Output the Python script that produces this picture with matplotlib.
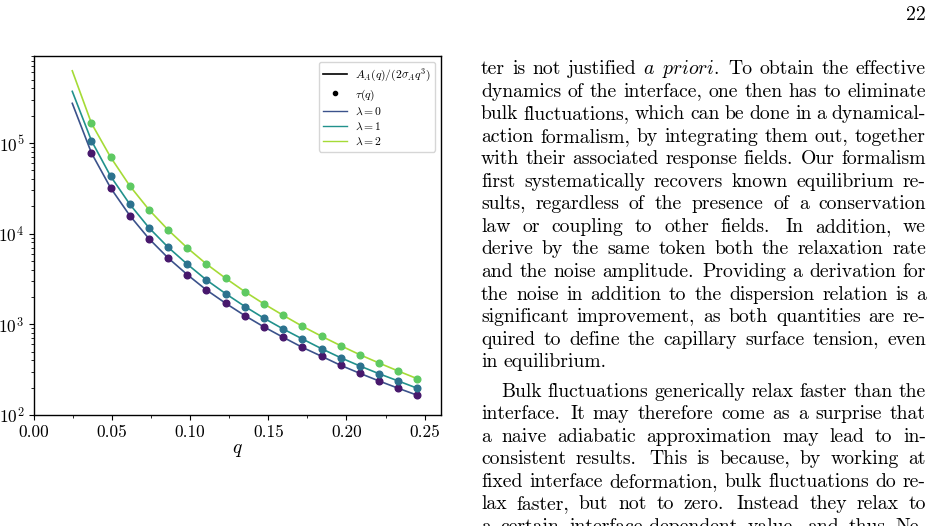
import matplotlib
matplotlib.use("Agg")
import matplotlib.pyplot as plt
from matplotlib.ticker import MultipleLocator
from matplotlib.lines import Line2D

plt.rcParams["font.family"] = "serif"
plt.rcParams["font.serif"] = ["cmr10"]
plt.rcParams["mathtext.fontset"] = "cm"
plt.rcParams["axes.formatter.use_mathtext"] = True

# --- data ---
q_dots = [0.0368, 0.0491, 0.0614, 0.0736, 0.0859, 0.0982, 0.1104, 0.1227, 0.1350,
          0.1473, 0.1595, 0.1718, 0.1841, 0.1963, 0.2086, 0.2209, 0.2332, 0.2454]
q_line = [0.0245] + q_dots

tau_0 = [77400, 31800, 15750, 8790, 5380, 3520, 2390, 1705, 1245,
         934, 719, 557, 444, 353, 288, 237, 197, 165]
tau_1 = [105700, 42800, 21000, 11600, 7060, 4590, 3080, 2175, 1572,
         1165, 888, 689, 538, 428, 347, 285, 237, 197]
tau_2 = [164400, 69400, 33500, 18350, 10960, 6940, 4620, 3215, 2288,
         1675, 1257, 951, 738, 581, 462, 374, 305, 251]

amp_0 = [273500, 77400, 31800, 15750, 8790, 5380, 3520, 2390, 1705, 1245,
         934, 719, 557, 444, 353, 288, 237, 197, 165]
amp_1 = [370700, 105700, 42800, 21000, 11600, 7060, 4590, 3080, 2175, 1572,
         1165, 888, 689, 538, 428, 347, 285, 237, 197]
amp_2 = [625000, 164400, 69400, 33500, 18350, 10960, 6940, 4620, 3215, 2288,
         1675, 1257, 951, 738, 581, 462, 374, 305, 251]

lambdas = [0, 1, 2]
line_colors = ["#3b528b", "#21918c", "#a5db36"]
dot_colors = ["#47186c", "#2c728e", "#5ec962"]

para1 = [
    "ter is not justified $a$ $priori$. To obtain the effective",
    "dynamics of the interface, one then has to eliminate",
    "bulk fluctuations, which can be done in a dynamical-",
    "action formalism, by integrating them out, together",
    "with their associated response fields. Our formalism",
    "first systematically recovers known equilibrium re-",
    "sults, regardless of the presence of a conservation",
    "law or coupling to other fields. In addition, we",
    "derive by the same token both the relaxation rate",
    "and the noise amplitude. Providing a derivation for",
    "the noise in addition to the dispersion relation is a",
    "significant improvement, as both quantities are re-",
    "quired to define the capillary surface tension, even",
    "in equilibrium.",
]
para2 = [
    "Bulk fluctuations generically relax faster than the",
    "interface. It may therefore come as a surprise that",
    "a naive adiabatic approximation may lead to in-",
    "consistent results. This is because, by working at",
    "fixed interface deformation, bulk fluctuations do re-",
    "lax faster, but not to zero. Instead they relax to",
    "a certain interface-dependent value, and thus Ne-",
]

W, H = 934, 526
fig = plt.figure(figsize=(W / 100, H / 100), dpi=100)

# --- chart ---
ax = fig.add_axes([34 / W, 1 - 415 / H, (441 - 34) / W, (415 - 56) / H])
amps = [amp_0, amp_1, amp_2]
taus = [tau_0, tau_1, tau_2]
for i in range(3):
    ax.plot(q_line, amps[i], color=line_colors[i], lw=1.2, zorder=2)
    ax.plot(q_dots, taus[i], "o", color=dot_colors[i], ms=4.8, zorder=3)

ax.set_yscale("log")
ax.set_xlim(0, 0.2605)
ax.set_ylim(100, 9.1e5)
ax.xaxis.set_major_locator(MultipleLocator(0.05))
ax.xaxis.set_minor_locator(MultipleLocator(0.025))
ax.xaxis.set_major_formatter(matplotlib.ticker.FormatStrFormatter("%.2f"))
ax.tick_params(labelsize=12.5)
ax.set_xlabel("$q$", fontsize=14, labelpad=0.5)
for s in ax.spines.values():
    s.set_linewidth(1.0)

handles = [Line2D([], [], color="black", lw=1.2),
           Line2D([], [], color="black", marker="o", ls="none", ms=3)]
labels = [r"$A_A(q)/(2\sigma_A q^3)$", r"$\tau(q)$"]
for i, lam in enumerate(lambdas):
    handles.append(Line2D([], [], color=line_colors[i], lw=1.0))
    labels.append(r"$\lambda = %d$" % lam)
ax.legend(handles, labels, loc="upper right", fontsize=8.4, borderaxespad=0.5,
          labelspacing=0.3, handlelength=2.0, handletextpad=0.7)

# --- page text ---
FS = 14.2
renderer = fig.canvas.get_renderer()
x_left, x_right = 481, 926
space = 0.333 * FS * 100 / 72


def put_line(line, x0, x1, yb, justify):
    words = line.split()
    texts = [fig.text(0, H - yb, w, transform=None, fontsize=FS,
                      va="baseline", ha="left") for w in words]
    widths = [t.get_window_extent(renderer).width for t in texts]
    weights = [1.3 if w.endswith(".") else 1.0 for w in words[:-1]]
    if justify and len(words) > 1:
        gap = (x1 - x0 - sum(widths)) / sum(weights)
    else:
        gap = space
    x = x0
    for k, t in enumerate(texts):
        t.set_x(x)
        if k < len(weights):
            x += widths[k] + gap * weights[k]


for i, line in enumerate(para1):
    put_line(line, x_left, x_right, 74 + 22.55 * i, i < len(para1) - 1)
for j, line in enumerate(para2):
    x0 = x_left + 20 if j == 0 else x_left
    put_line(line, x0, x_right, 396.7 + 22.55 * j, True)

fig.text(x_right, H - 20, "22", transform=None, fontsize=FS,
         va="baseline", ha="right")

fig.savefig("out.png", dpi=100)
